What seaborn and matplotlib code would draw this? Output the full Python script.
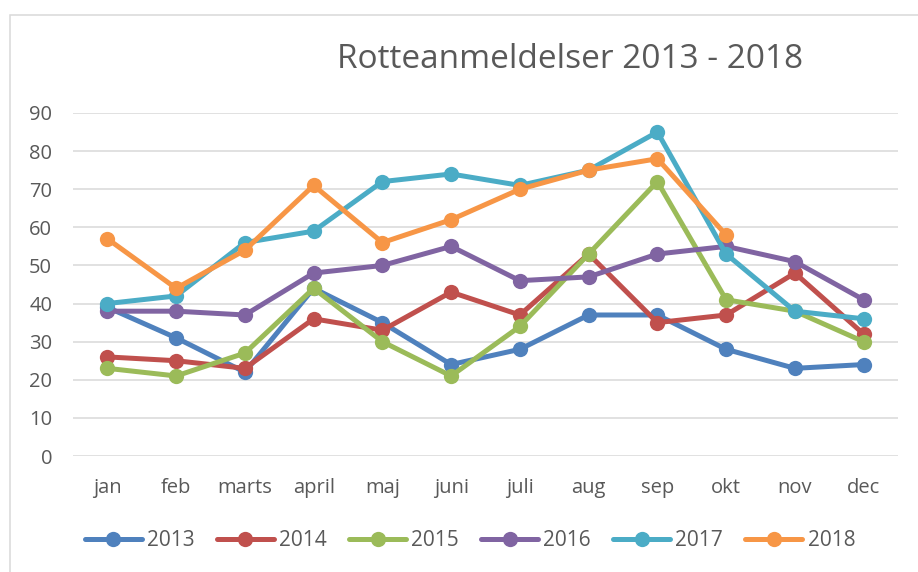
import numpy as np
import pandas as pd
import matplotlib
matplotlib.use("Agg")
import matplotlib.pyplot as plt
import seaborn as sns
from matplotlib.patches import Rectangle

months = ["jan", "feb", "marts", "april", "maj", "juni", "juli", "aug", "sep", "okt", "nov", "dec"]
years = ["2013", "2014", "2015", "2016", "2017", "2018"]

v2013 = [39, 31, 22, 44, 35, 24, 28, 37, 37, 28, 23, 24]
v2014 = [26, 25, 23, 36, 33, 43, 37, 53, 35, 37, 48, 32]
v2015 = [23, 21, 27, 44, 30, 21, 34, 53, 72, 41, 38, 30]
v2016 = [38, 38, 37, 48, 50, 55, 46, 47, 53, 55, 51, 41]
v2017 = [40, 42, 56, 59, 72, 74, 71, 75, 85, 53, 38, 36]
v2018 = [57, 44, 54, 71, 56, 62, 70, 75, 78, 58, np.nan, np.nan]

colors = ["#4F81BD", "#C0504D", "#9BBB59", "#8064A2", "#4BACC6", "#F79646"]

rows = []
for year, vals in zip(years, [v2013, v2014, v2015, v2016, v2017, v2018]):
    for i, v in enumerate(vals):
        rows.append({"month": i, "year": year, "antal": v})
df = pd.DataFrame(rows).dropna()

sns.set_style("white")
plt.rcParams["font.family"] = ["Open Sans", "DejaVu Sans"]
text_col = "#595959"

fig = plt.figure(figsize=(9.18, 5.72), dpi=100)
ax = fig.add_axes([73 / 918, 1 - 456 / 572, 825 / 918, 343 / 572])

sns.lineplot(data=df, x="month", y="antal", hue="year", palette=colors,
             marker="o", markersize=11, markeredgewidth=0, linewidth=3.6,
             sort=False, ax=ax, legend=True)

ax.set_xlim(-0.5, 11.5)
ax.set_ylim(0, 90)
ax.set_yticks(range(0, 91, 10))
ax.set_xticks(range(12))
ax.set_xticklabels(months)
ax.yaxis.grid(True, color="#D9D9D9", linewidth=1.1)
ax.set_axisbelow(True)
for s in ax.spines.values():
    s.set_visible(False)
ax.tick_params(axis="both", length=0, labelsize=14.5, colors=text_col)
ax.tick_params(axis="y", pad=15)
ax.tick_params(axis="x", pad=16)
ax.set_xlabel("")
ax.set_ylabel("")

handles, labels = ax.get_legend_handles_labels()
ax.get_legend().remove()
fig.legend(handles, labels, loc="center", bbox_to_anchor=(470 / 918, 1 - 541 / 572),
           ncol=6, frameon=False, fontsize=15, handlelength=2.75,
           handletextpad=0.25, columnspacing=1.05, labelcolor=text_col)

fig.text(570 / 918, 1 - 60 / 572, "Rotteanmeldelser 2013 - 2018", ha="center", va="center",
         fontsize=24, color=text_col)

fig.patches.append(Rectangle((10 / 918, -0.1), 1.2, 1 - 14.5 / 572 + 0.1, transform=fig.transFigure,
                             fill=False, edgecolor="#D9D9D9", linewidth=1.1))

fig.savefig("out.png", dpi=100)
